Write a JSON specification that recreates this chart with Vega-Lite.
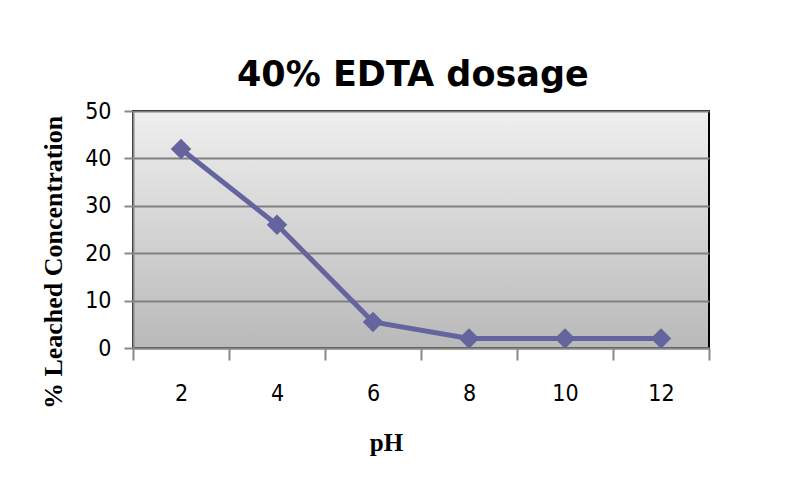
{
  "$schema": "https://vega.github.io/schema/vega-lite/v6.json",
  "width": 576,
  "height": 237,
  "autosize": "none",
  "padding": {"left": 133, "top": 111, "right": 76, "bottom": 137},
  "background": "white",
  "title": {
    "text": "40% EDTA dosage",
    "anchor": "start",
    "frame": "group",
    "dx": 104,
    "offset": 7,
    "font": "DejaVu Sans",
    "fontSize": 35,
    "fontWeight": "bold",
    "color": "black"
  },
  "data": {
    "values": [
      {"pH": "2", "leached": 42},
      {"pH": "4", "leached": 26},
      {"pH": "6", "leached": 5.5},
      {"pH": "8", "leached": 2},
      {"pH": "10", "leached": 2},
      {"pH": "12", "leached": 2}
    ]
  },
  "config": {
    "view": {
      "stroke": "black",
      "strokeWidth": 2,
      "fill": {
        "gradient": "linear",
        "x1": 0, "y1": 0, "x2": 0, "y2": 1,
        "stops": [
          {"offset": 0, "color": "#efefef"},
          {"offset": 1, "color": "#b9b9b9"}
        ]
      }
    }
  },
  "mark": {
    "type": "line",
    "color": "#64649e",
    "strokeWidth": 5,
    "point": {"shape": "diamond", "size": 420, "filled": true, "color": "#64649e"}
  },
  "encoding": {
    "x": {
      "field": "pH",
      "type": "ordinal",
      "sort": null,
      "scale": {"type": "band", "paddingInner": 0, "paddingOuter": 0},
      "axis": {
        "title": "pH",
        "labelAngle": 0,
        "labelFont": "Liberation Sans Narrow, DejaVu Sans Condensed",
        "labelFontSize": 23,
        "labelColor": "black",
        "labelPadding": 22,
        "tickBand": "extent",
        "tickSize": 12,
        "tickColor": "#888888",
        "tickWidth": 2,
        "domainColor": "#888888",
        "domainWidth": 2,
        "grid": false,
        "titleFont": "Liberation Serif",
        "titleFontSize": 25,
        "titleFontWeight": "bold",
        "titleColor": "black",
        "titleX": 253,
        "titleY": 94,
        "titleAlign": "center",
        "titleBaseline": "middle"
      }
    },
    "y": {
      "field": "leached",
      "type": "quantitative",
      "scale": {"domain": [0, 50]},
      "axis": {
        "title": "% Leached Concentration",
        "values": [0, 10, 20, 30, 40, 50],
        "labelFont": "Liberation Sans Narrow, DejaVu Sans Condensed",
        "labelFontSize": 23,
        "labelColor": "black",
        "labelPadding": 13,
        "tickSize": 9,
        "tickColor": "#888888",
        "tickWidth": 2,
        "domainColor": "#888888",
        "domainWidth": 2,
        "grid": true,
        "gridColor": "#808080",
        "gridWidth": 2,
        "titleFont": "Liberation Serif",
        "titleFontSize": 26,
        "titleFontWeight": "bold",
        "titleColor": "black",
        "titleAngle": 270,
        "titleX": -80,
        "titleY": 151,
        "titleAlign": "center",
        "titleBaseline": "middle"
      }
    }
  }
}
